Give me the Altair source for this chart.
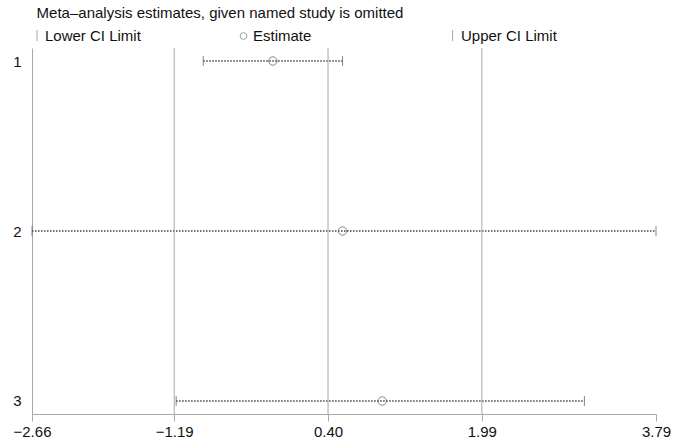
import altair as alt
import pandas as pd

# ---- data ----
studies = [1, 2, 3]
estimates = [-0.17, 0.55, 0.96]
lower_ci = [-0.89, -2.66, -1.17]
upper_ci = [0.55, 3.79, 3.05]
x_ticks = [-2.66, -1.19, 0.40, 1.99, 3.79]
grid_vals = [-1.19, 0.40, 1.99]
title_text = "Meta\u2013analysis estimates, given named study is omitted"
legend_labels = ["Lower CI Limit", "Estimate", "Upper CI Limit"]

FONT = "Liberation Sans"
GRAY = "#a8a8a8"
W, H = 624, 366

df = pd.DataFrame({"study": studies, "est": estimates, "lo": lower_ci, "hi": upper_ci})
grid_df = pd.DataFrame({"g": grid_vals})

xscale = alt.Scale(domain=[x_ticks[0], x_ticks[-1]], nice=False, zero=False)
yscale = alt.Scale(domain=[0.9235, 3.0765], reverse=True, nice=False, zero=False)

xaxis = alt.Axis(values=x_ticks, format=".2f", title=None, grid=False,
                 labelFontSize=15, labelFont=FONT, labelColor="#111",
                 domainColor=GRAY, tickColor=GRAY, tickSize=7, labelPadding=3,
                 labelFlush=False, labelOverlap=False)
yaxis = alt.Axis(values=studies, format="d", title=None, grid=False, ticks=False,
                 labelFontSize=15, labelFont=FONT, labelColor="#111",
                 domainColor=GRAY, labelPadding=11)

base = alt.Chart(df)

ci = base.mark_rule(color="#444", strokeWidth=1.5, strokeDash=[1.5, 1.5]).encode(
    x=alt.X("lo:Q", scale=xscale, axis=xaxis),
    x2="hi:Q",
    y=alt.Y("study:Q", scale=yscale, axis=yaxis),
)

grid = alt.Chart(grid_df).mark_rule(color=GRAY, strokeWidth=1).encode(
    x=alt.X("g:Q", scale=xscale)
)

cap_lo = base.mark_tick(orient="vertical", size=10, thickness=1, color="#555").encode(
    x=alt.X("lo:Q", scale=xscale), y=alt.Y("study:Q", scale=yscale)
)
cap_hi = base.mark_tick(orient="vertical", size=10, thickness=1, color="#555").encode(
    x=alt.X("hi:Q", scale=xscale), y=alt.Y("study:Q", scale=yscale)
)

pts = base.mark_point(shape="circle", filled=False, size=70, color="#555",
                      strokeWidth=1).encode(
    x=alt.X("est:Q", scale=xscale), y=alt.Y("study:Q", scale=yscale)
)

def txt(s, x, y, size=15):
    return alt.Chart(pd.DataFrame({"t": [s]})).mark_text(
        align="left", baseline="alphabetic", font=FONT, fontSize=size, color="#111"
    ).encode(text="t:N", x=alt.value(x), y=alt.value(y))

title = txt(title_text, 4.6, -30)
leg1 = txt(legend_labels[0], 13, -7)
leg2 = txt(legend_labels[1], 221, -7)
leg3 = txt(legend_labels[2], 429, -7)

one = pd.DataFrame({"a": [0]})
bar1 = alt.Chart(one).mark_rule(color=GRAY, strokeWidth=1).encode(
    x=alt.value(5), y=alt.value(-18), y2=alt.value(-7))
bar3 = alt.Chart(one).mark_rule(color=GRAY, strokeWidth=1).encode(
    x=alt.value(420.6), y=alt.value(-18), y2=alt.value(-7))
circ = alt.Chart(one).mark_point(shape="circle", filled=False, size=45, color="#777",
                                 strokeWidth=1).encode(x=alt.value(211.5), y=alt.value(-12))

chart = alt.layer(ci, grid, cap_lo, cap_hi, pts, title, leg1, leg2, leg3, bar1, bar3, circ).properties(
    width=W, height=H,
    autosize=alt.AutoSizeParams(type="none"),
    padding={"left": 32, "top": 48, "right": 19, "bottom": 27},
    background="white",
).configure_view(stroke=None)

chart.save("out.html", embed_options={"renderer": "svg", "actions": False})
